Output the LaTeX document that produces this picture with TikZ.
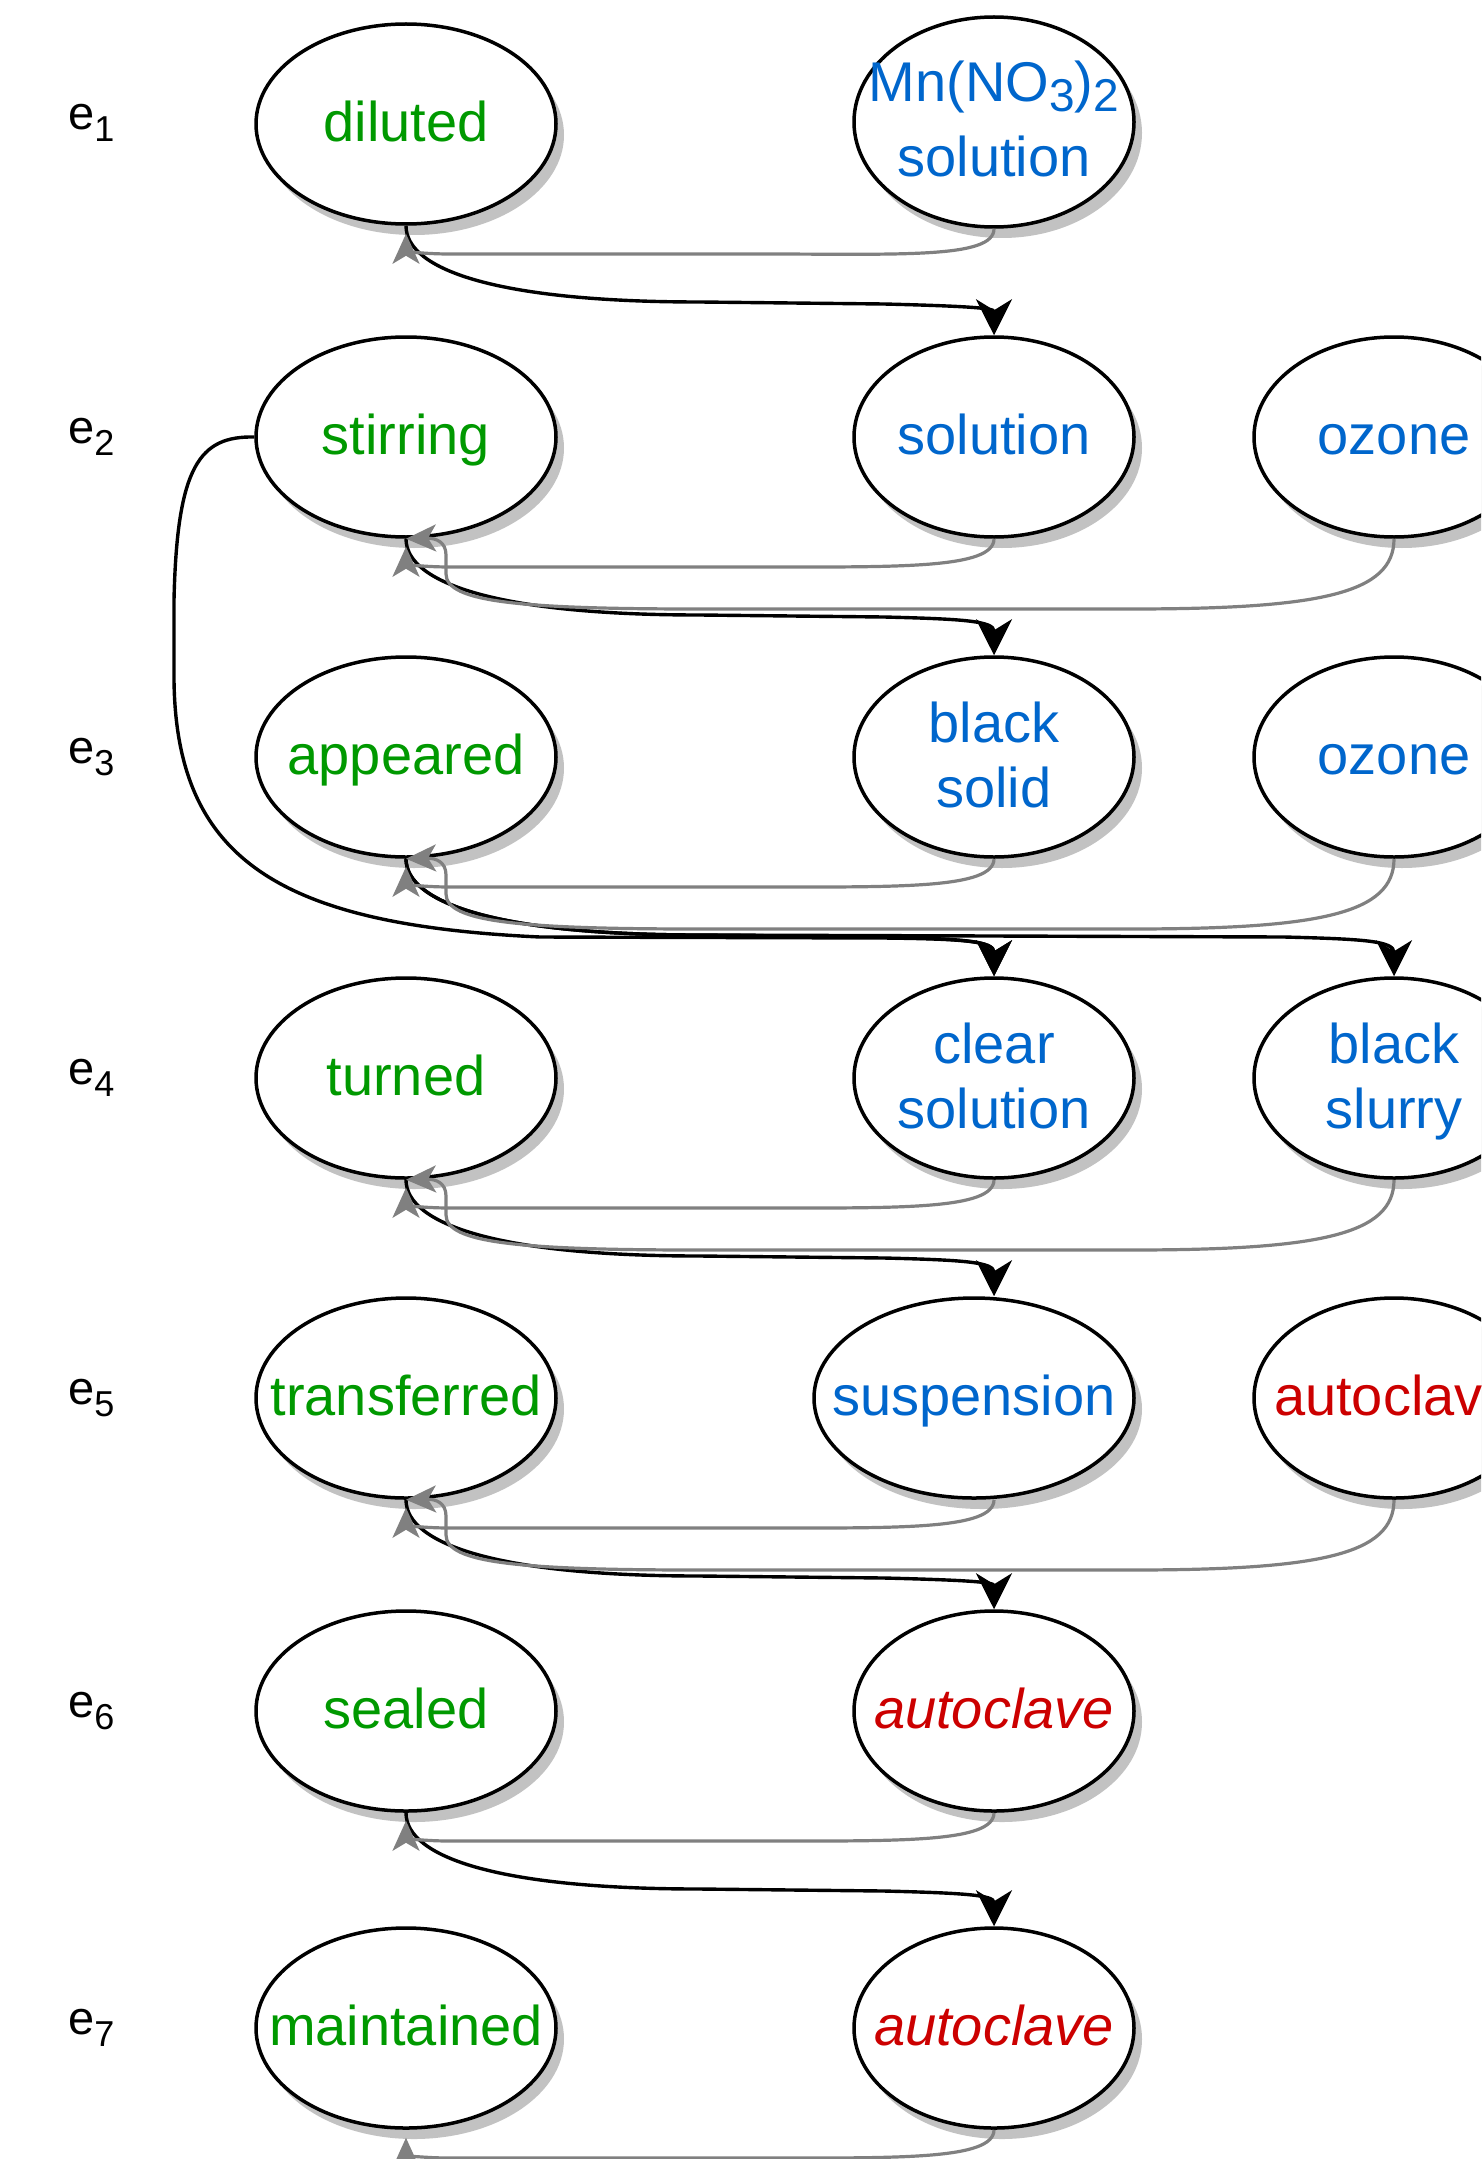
\documentclass[tikz,border=0pt]{standalone}
\usepackage{fontspec}
\setmainfont{Liberation Sans}
\usetikzlibrary{shapes.geometric,shadows,arrows.meta}
\definecolor{evgreen}{HTML}{009900}
\definecolor{argblue}{HTML}{0066CC}
\definecolor{argred}{HTML}{CC0000}
\definecolor{linkgray}{HTML}{808080}
% one line of node text: zero width, fixed height and depth
\newcommand\nodetext[1]{\makebox[0pt]{\rule[-3pt]{0pt}{41pt}\smash{#1}}}
\newcommand\lowidx[1]{\raisebox{-10pt}{\fontsize{46}{46}\selectfont #1}}
\newcommand\evlabel[1]{e\raisebox{-12pt}{\fontsize{36}{36}\selectfont #1}}
% grey link from the middle argument back to the trigger (#3 = bottom y of the row)
\newcommand\retmid[3]{%
  \draw[back,shorten >=8pt] #1 .. controls +(0,30) and (900,#3+30) .. (760,#3+30)
    -- (450,#3+30) .. controls (418,#3+30) and (406,#3+26) .. #2;}
% grey link from the right argument back to the trigger
\newcommand\retright[3]{%
  \draw[back] #1 .. controls +(0,55) and (1320,#3+72) .. (1130,#3+72)
    -- (700,#3+72) .. controls (520,#3+72) and (446,#3+65) .. (446,#3+37)
    -- (446,#3+18) .. controls (446,#3+5) and (436,#3+1) .. #2;}
% black link from a trigger down to an argument of the next row (#4 = x of target)
\newcommand\fwdlink[4]{%
  \draw[fwd] #1 .. controls +(0,45) and (500,#3+78) .. (700,#3+78)
    -- (#4-110,#3+80) .. controls (#4-30,#3+82) and (#4,#3+84) .. #2;}
\begin{document}
\begin{tikzpicture}[x=1pt,y=-1pt,
  ev/.style={ellipse, draw=black, line width=3.5pt, fill=white, inner sep=0pt,
    minimum width=300pt, minimum height=200pt, align=center,
    font=\fontsize{56}{65}\selectfont,
    drop shadow={shadow xshift=8pt, shadow yshift=-11pt, fill=black!24, opacity=1}},
  trig/.style={ev, text=evgreen},
  argb/.style={ev, text=argblue, minimum width=280pt},
  argr/.style={ev, text=argred, minimum width=280pt},
  rowlbl/.style={anchor=base west, inner sep=0pt, font=\fontsize{47}{50}\selectfont},
  fwd/.style={draw=black, line width=3.4pt, -{Stealth[length=36pt,width=36pt,inset=11pt]}},
  back/.style={draw=linkgray, line width=3.2pt, -{Stealth[length=30pt,width=27pt,inset=8pt]}},
]
\useasboundingbox (0,0) rectangle (1481,2159);
\clip (0,0) rectangle (1481,2159);
\fill[white] (0,0) rectangle (1481,2159);

% row labels
\node[rowlbl] (l1) at (68,130)  {\evlabel{1}};
\node[rowlbl] (l2) at (68,443)  {\evlabel{2}};
\node[rowlbl] (l3) at (68,763)  {\evlabel{3}};
\node[rowlbl] (l4) at (68,1084) {\evlabel{4}};
\node[rowlbl] (l5) at (68,1404) {\evlabel{5}};
\node[rowlbl] (l6) at (68,1717) {\evlabel{6}};
\node[rowlbl] (l7) at (68,2034) {\evlabel{7}};

% triggers
\node[trig] (t1) at (406,124)  {\nodetext{diluted}};
\node[trig] (t2) at (406,437)  {\nodetext{stirring}};
\node[trig] (t3) at (406,757)  {\nodetext{appeared}};
\node[trig] (t4) at (406,1078) {\nodetext{turned}};
\node[trig] (t5) at (406,1398) {\nodetext{transferred}};
\node[trig] (t6) at (406,1711) {\nodetext{sealed}};
\node[trig] (t7) at (406,2028) {\nodetext{maintained}};

% arguments
\node[argb, minimum height=210pt] (a11) at (994,122)
  {\nodetext{Mn(NO\lowidx{3})\lowidx{2}}\\[10pt]\nodetext{solution}};
\node[argb] (a21) at (994,437)  {\nodetext{solution}};
\node[argb] (a22) at (1394,437) {\nodetext{ozone}};
\node[argb] (a31) at (994,757)  {\nodetext{black}\\\nodetext{solid}};
\node[argb] (a32) at (1394,757) {\nodetext{ozone}};
\node[argb] (a41) at (994,1078) {\nodetext{clear}\\\nodetext{solution}};
\node[argb] (a42) at (1394,1078) {\nodetext{black}\\\nodetext{slurry}};
\node[argb, minimum width=320pt] (a51) at (974,1398) {\nodetext{suspension}};
\node[argr] (a52) at (1394,1398) {\nodetext{autoclave}};
\node[argr] (a61) at (994,1711) {\nodetext{\textit{autoclave}}};
\node[argr] (a71) at (994,2028) {\nodetext{\textit{autoclave}}};

% forward links between events
\fwdlink{(t1.south)}{(a21.north)}{224}{994}
\fwdlink{(t2.south)}{(a31.north)}{537}{994}
\fwdlink{(t3.south)}{(a41.north)}{857}{994}
\fwdlink{(t3.south)}{(a42.north)}{857}{1394}
\fwdlink{(t4.south)}{([xshift=20pt]a51.north)}{1178}{994}
\fwdlink{(t5.south)}{(a61.north)}{1498}{994}
\fwdlink{(t6.south)}{(a71.north)}{1811}{994}
\draw[fwd] (t2.west) .. controls (200,436) and (177,465) .. (174,600)
  -- (174,680) .. controls (176,860) and (280,925) .. (540,937)
  -- (884,938) .. controls (964,939) and (994,941) .. (a41.north);

% argument links back to their triggers
\retmid{(a11.south)}{(t1.south)}{224}
\retmid{(a21.south)}{(t2.south)}{537}
\retright{(a22.south)}{(t2.south)}{537}
\retmid{(a31.south)}{(t3.south)}{857}
\retright{(a32.south)}{(t3.south)}{857}
\retmid{(a41.south)}{(t4.south)}{1178}
\retright{(a42.south)}{(t4.south)}{1178}
\retmid{([xshift=20pt]a51.south)}{(t5.south)}{1498}
\retright{(a52.south)}{(t5.south)}{1498}
\retmid{(a61.south)}{(t6.south)}{1811}
\retmid{(a71.south)}{(t7.south)}{2128}
\end{tikzpicture}
\end{document}
